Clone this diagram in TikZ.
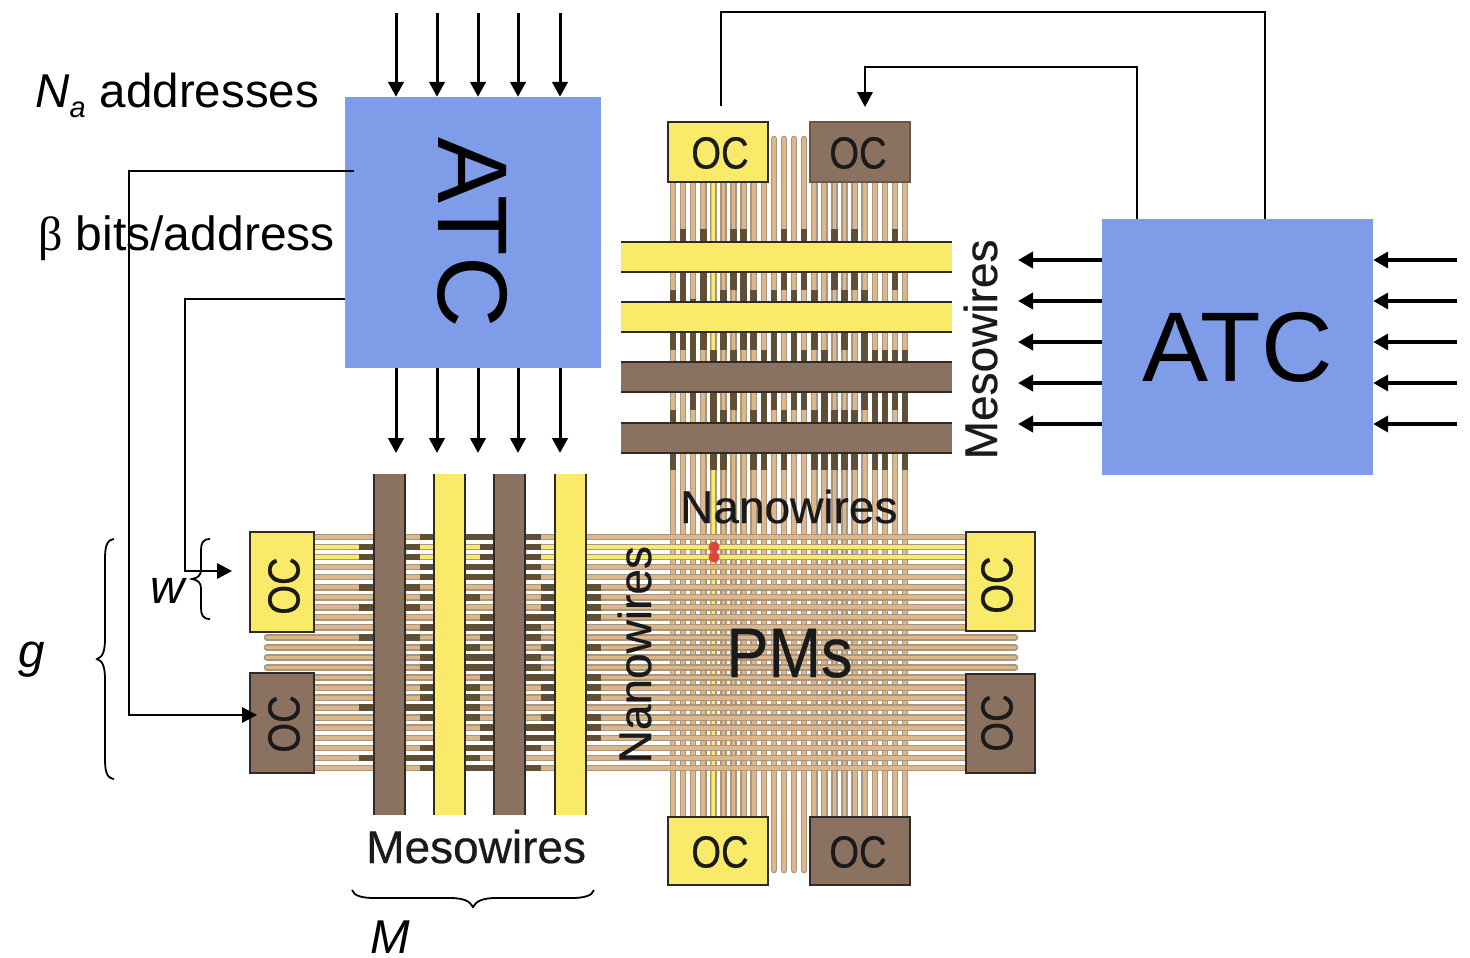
\documentclass[tikz,border=0pt]{standalone}
\usepackage{fontspec}
\setmainfont{Liberation Sans}
\newfontfamily\serifgreek{Liberation Serif}
\newfontfamily\imgf[FakeBold=0.5]{Liberation Sans}
\usetikzlibrary{arrows.meta}
\definecolor{blk}{HTML}{000000}
\definecolor{txt}{HTML}{1A1A1A}
\definecolor{blu}{HTML}{7F9CE8}
\definecolor{ylw}{HTML}{F9EA6A}
\definecolor{brn}{HTML}{8B7260}
\definecolor{wtan}{HTML}{DDB68C}
\definecolor{wedge}{HTML}{A8967F}
\definecolor{dope}{HTML}{5F4F37}
\definecolor{edgeD}{HTML}{2E2A26}
\definecolor{redd}{HTML}{E0443A}
\newcommand{\fsz}[1]{\fontsize{#1}{#1}\selectfont}
\tikzset{
  wireO/.style={draw=wedge,line width=6.6pt},
  wireI/.style={draw=wtan,line width=3.8pt},
  wireY/.style={draw=ylw,line width=3.8pt},
  dopeseg/.style={draw=dope,line width=6.6pt},
  mesoedge/.style={draw=edgeD,line width=1.6pt},
  ocbox/.style={draw=edgeD,line width=1.1pt,inner sep=0pt},
  ocY/.style={ocbox,fill=ylw},
  ocB/.style={ocbox,fill=brn},
  octext/.style={inner sep=0pt,text=txt,font=\imgf\fsz{45}},
  atcbox/.style={fill=blu,inner sep=0pt,text=blk,font=\fsz{99}},
  bus/.style={draw=blk,line width=3pt,-{Triangle[length=15pt,width=15.5pt]}},
  busH/.style={draw=blk,line width=3.6pt,-{Triangle[length=15pt,width=16pt]}},
  ctl/.style={draw=blk,line width=1.8pt},
  ctlA/.style={ctl,-{Triangle[length=15pt,width=15.5pt]}},
  brace/.style={draw=blk,line width=1.8pt},
  lbl/.style={inner sep=0pt,anchor=base west,text=blk,font=\fsz{47.5}},
  imglbl/.style={inner sep=0pt,anchor=base west,text=txt,font=\imgf\fsz{46}}
}
\begin{document}
\begin{tikzpicture}[x=1pt,y=-1pt]
\useasboundingbox (0,0) rectangle (1470,958);
% vertical nanowires
\foreach \j in {0,...,23}{
  \pgfmathsetmacro{\xx}{673+10.09*\j}
  \ifnum\j>9 \ifnum\j<14
    \draw[wireO,line cap=round] (\xx,139) -- (\xx,870);
    \draw[wireI,line cap=round] (\xx,139) -- (\xx,870);
  \else
    \draw[wireO] (\xx,122) -- (\xx,885);
    \draw[wireI] (\xx,122) -- (\xx,885);
  \fi \else
    \draw[wireO] (\xx,122) -- (\xx,885);
    \draw[wireI] (\xx,122) -- (\xx,885);
  \fi
}
\draw[wireY] (713.4,182) -- (713.4,817);
% horizontal nanowires
\foreach \k in {0,...,23}{
  \pgfmathsetmacro{\yy}{537+10.04*\k}
  \ifnum\k>9 \ifnum\k<14
    \draw[wireO,line cap=round] (267,\yy) -- (1015,\yy);
    \draw[wireI,line cap=round] (267,\yy) -- (1015,\yy);
  \else
    \draw[wireO] (250,\yy) -- (1035,\yy);
    \draw[wireI] (250,\yy) -- (1035,\yy);
  \fi \else
    \draw[wireO] (250,\yy) -- (1035,\yy);
    \ifnum\k=1 \draw[wireY] (250,\yy) -- (1035,\yy); \else
    \ifnum\k=2 \draw[wireY] (250,\yy) -- (1035,\yy); \else
    \draw[wireI] (250,\yy) -- (1035,\yy); \fi\fi
  \fi
}
% doped segments on the horizontal nanowires
\foreach \k in {1,2,5,7,10,17,22}{\draw[dopeseg] (359,{537+10.04*\k}) -- (420,{537+10.04*\k});}
\foreach \k in {0,3,4,6,9,11,12,13,15,16,17,18,21,22,23}{\draw[dopeseg] (420,{537+10.04*\k}) -- (480,{537+10.04*\k});}
\foreach \k in {0,1,2,3,4,8,9,10,12,13,14,19,20,21,23}{\draw[dopeseg] (480,{537+10.04*\k}) -- (541,{537+10.04*\k});}
\foreach \k in {5,6,7,8,11,14,15,16,18,19,20}{\draw[dopeseg] (541,{537+10.04*\k}) -- (601,{537+10.04*\k});}
% doped segments on the vertical nanowires
\foreach \j in {1,3,6,7,11,13,16,18,22}{\draw[dopeseg] ({673+10.09*\j},229) -- ({673+10.09*\j},290);}
\foreach \j in {0,1,3,5,7,8,10,12,14,17,19}{\draw[dopeseg] ({673+10.09*\j},290) -- ({673+10.09*\j},350);}
\draw[dopeseg] ({673+10.09*2},299) -- ({673+10.09*2},350);
\foreach \j in {2,4,6,9,10,12,13,15,19,20,21,22,23}{\draw[dopeseg] ({673+10.09*\j},350) -- ({673+10.09*\j},410);}
\foreach \j in {0,4,5,8,9,11,14,15,16,17,18,20,21,23}{\draw[dopeseg] ({673+10.09*\j},410) -- ({673+10.09*\j},470);}
% vertical mesowires
\fill[brn] (374,474) rectangle (405,815);
\fill[ylw] (434,474) rectangle (465,815);
\fill[brn] (494,474) rectangle (525,815);
\fill[ylw] (555,474) rectangle (586,815);
\foreach \x in {374,405,434,465,494,525,555,586}{\draw[mesoedge] (\x,474) -- (\x,815);}
% horizontal mesowires
\fill[ylw] (621,242) rectangle (952,272);
\fill[ylw] (621,302) rectangle (952,332);
\fill[brn] (621,362) rectangle (952,392);
\fill[brn] (621,423) rectangle (952,453);
\foreach \y in {242,272,302,332,362,392,423,453}{\draw[mesoedge] (621,\y) -- (952,\y);}
% output circuits
\node[ocY,minimum width=64pt,minimum height=100pt] (ocLY) at (282,582) {};
\node[ocB,minimum width=64pt,minimum height=100pt] (ocLB) at (282,723) {};
\node[ocY,minimum width=69pt,minimum height=99pt] (ocRY) at (1000.5,581.5) {};
\node[ocB,minimum width=69pt,minimum height=99pt] (ocRB) at (1000.5,723.5) {};
\node[ocY,minimum width=100pt,minimum height=60pt] (ocTY) at (718,152) {};
\node[ocB,draw=brn!75!black,minimum width=100pt,minimum height=60pt] (ocTB) at (860,152) {};
\node[ocY,minimum width=100pt,minimum height=68pt] (ocBY) at (718,851) {};
\node[ocB,minimum width=100pt,minimum height=68pt] (ocBB) at (860,851) {};
\node[octext] (tLY) at (284,586) {\rotatebox{90}{\scalebox{.85}[1]{OC}}};
\node[octext] (tLB) at (284,724) {\rotatebox{90}{\scalebox{.85}[1]{OC}}};
\node[octext] (tRY) at (997,585) {\rotatebox{90}{\scalebox{.85}[1]{OC}}};
\node[octext] (tRB) at (997,723) {\rotatebox{90}{\scalebox{.85}[1]{OC}}};
\node[octext] (tTY) at (720,153) {\scalebox{.85}[1]{OC}};
\node[octext] (tTB) at (858,153) {\scalebox{.85}[1]{OC}};
\node[octext] (tBY) at (720,852) {\scalebox{.85}[1]{OC}};
\node[octext] (tBB) at (858,852) {\scalebox{.85}[1]{OC}};
% selected crosspoints
\fill[redd] (714,547) circle (5.5pt);
\fill[redd] (714,557) circle (5.5pt);
% address translation circuits
\node[atcbox,minimum width=256pt,minimum height=271pt] (atcL) at (473,232.5) {\rotatebox{-90}{ATC}};
\node[atcbox,minimum width=271pt,minimum height=256pt] (atcR) at (1237.5,347) {ATC};
% image labels
\node[imglbl] (lNanoT) at (680,523) {Nanowires};
\node[imglbl] (lMesoB) at (366,863) {Mesowires};
\node[imglbl,rotate=90] (lNanoR) at (651,763.5) {Nanowires};
\node[imglbl,rotate=90] (lMesoR) at (997,459.5) {Mesowires};
\node[inner sep=0pt,anchor=base,text=txt,font=\imgf\fsz{70}] (lPM) at (789.5,677) {\scalebox{.9}[1]{PMs}};
% text labels
\node[lbl] (lNa) at (35,107) {\textit{N}\raisebox{-10pt}{\fsz{29}\textit{a}}\hspace{1pt} addresses};
\node[lbl,font=\fsz{48}] (lBeta) at (38,250) {{\serifgreek β} bits/address};
\node[lbl] (lg) at (18,667) {\textit{g}};
\node[lbl] (lw) at (150,603) {\textit{w}};
\node[lbl] (lM) at (370,953) {\textit{M}};
% address buses
\foreach \x/\n in {396/1,437/2,478/3,518/4,560/5}{
  \coordinate (ti\n) at (\x,13);
  \coordinate (to\n) at (\x,453);
  \draw[bus] (ti\n) -- (ti\n |- atcL.north);
  \draw[bus] (ti\n |- atcL.south) -- (to\n);
}
\foreach \y/\n in {260/1,301/2,342/3,383/4,424/5}{
  \coordinate (ri\n) at (1457,\y);
  \coordinate (ro\n) at (1018,\y);
  \draw[busH] (ri\n) -- (ri\n -| atcR.east);
  \draw[busH] (ri\n -| atcR.west) -- (ro\n);
}
% control lines
\coordinate (c1a) at (354,171);
\coordinate (c1b) at (129,171);
\coordinate (c1c) at (257,715);
\draw[ctlA] (c1a) -- (c1b) |- (c1c);
\coordinate (c2a) at (345,299);
\coordinate (c2b) at (185,299);
\coordinate (c2c) at (232,571);
\draw[ctlA] (c2a) -- (c2b) |- (c2c);
\coordinate (c3a) at (721,106);
\coordinate (c3b) at (721,12);
\coordinate (c3c) at (1265,219);
\draw[ctl] (c3a) -- (c3b) -| (c3c);
\coordinate (c4a) at (1137,219);
\coordinate (c4b) at (1137,67);
\coordinate (c4c) at (865,107);
\draw[ctlA] (c4a) -- (c4b) -| (c4c);
% braces
\draw[brace] (114,539) .. controls (106,540) and (105,548) .. (105,560) -- (105,638) .. controls (105,651) and (103,657) .. (97,659) .. controls (103,661) and (105,667) .. (105,680) -- (105,758) .. controls (105,770) and (106,778) .. (114,779);
\draw[brace] (210,539) .. controls (203,539) and (201,543) .. (201,550) -- (201,570) .. controls (201,575) and (198,578) .. (192,579) .. controls (198,580) and (201,583) .. (201,588) -- (201,608) .. controls (201,615) and (203,619) .. (210,619);
\draw[brace] (352,890) .. controls (354,896) and (362,898) .. (375,898) -- (450,898) .. controls (463,898) and (470,901) .. (473,907) .. controls (476,901) and (483,898) .. (496,898) -- (571,898) .. controls (584,898) and (592,896) .. (594,890);
\end{tikzpicture}
\end{document}
